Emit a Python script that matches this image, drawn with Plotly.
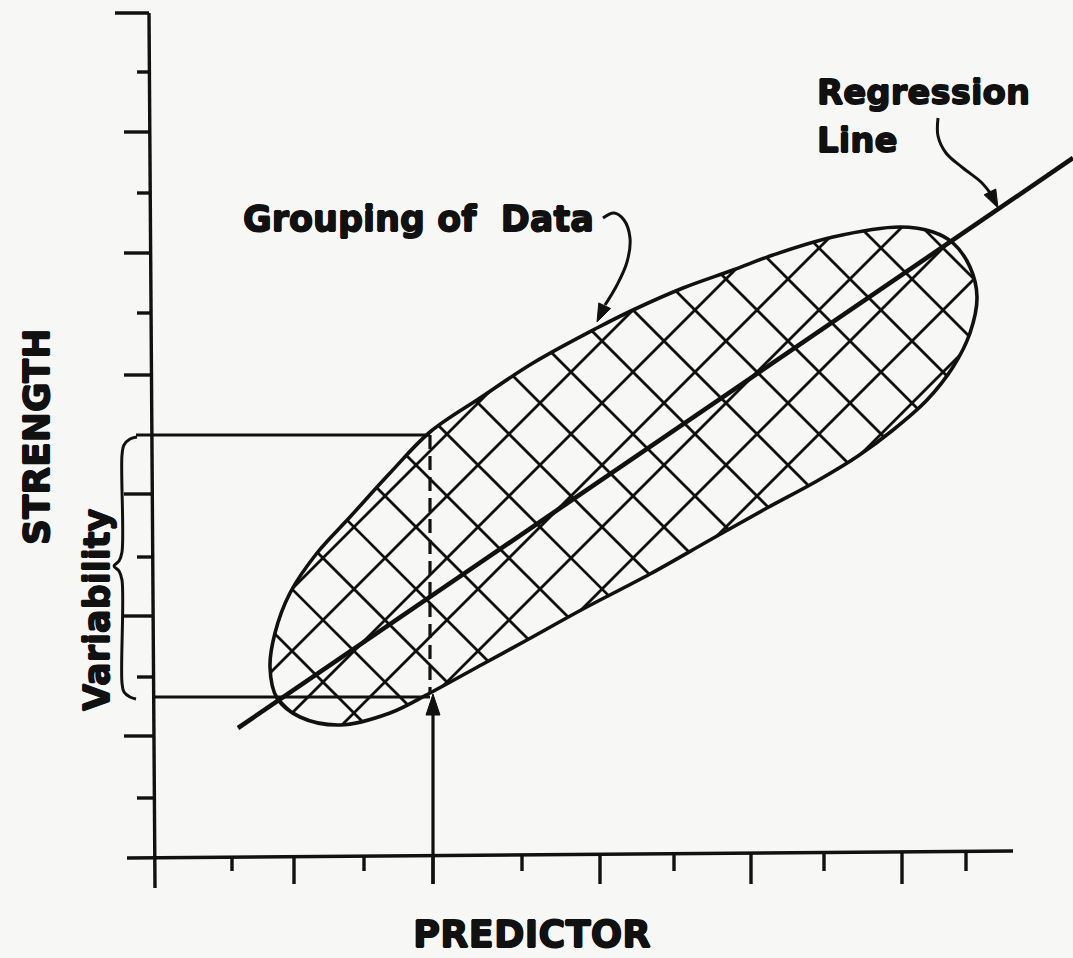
import numpy as np
import plotly.graph_objects as go

# ---- values (diagram units: x to the right, y downward) ----
x_axis_ends_x = [127, 1013]
x_axis_ends_y = [858, 851]
y_axis_ends_x = [149, 155]
y_axis_ends_y = [13, 888]

x_major_ticks = [294, 433, 600, 751, 902]
x_minor_ticks = [232, 364, 522, 674, 824, 966]
y_major_ticks = [13, 132, 253, 375, 494, 616, 736]
y_minor_ticks = [72, 193, 313, 557, 677, 798]

# grouping of data (outline of the hatched blob)
blob_x = [270, 275, 290, 317, 350, 390, 430, 480, 533, 597, 633, 683, 733, 773, 833, 900,
          933, 953, 970, 977, 970, 953, 927, 893, 858, 817, 767, 710, 650, 583, 527, 483,
          430, 390, 340, 300, 277]
blob_y = [667, 633, 593, 553, 517, 473, 432, 398, 363, 328, 310, 288, 270, 255, 237, 227,
          232, 243, 267, 297, 333, 367, 400, 430, 456, 481, 508, 540, 574, 609, 640, 664,
          693, 713, 725, 717, 698]

regression_x = [238, 1073]
regression_y = [728, 158]

predictor_value = 433
strength_high = 435
strength_low = 697

# hatch grid (lines at +/-45 degrees): offsets c in y - x = c and y + x = c
hatch_step = 62
hatch_down_phase = 297
hatch_up_phase = 943

# curved pointer arrows
group_arrow_x = [603, 614, 624, 630, 627, 617, 605]
group_arrow_y = [218, 213, 220, 238, 262, 285, 305]
group_arrow_tip = (597, 322)
reg_arrow_x = [938, 938, 946, 963, 981, 991]
reg_arrow_y = [118, 136, 153, 168, 182, 194]
reg_arrow_tip = (998, 208)

# brace for "Variability"
brace_x = [137, 130, 124, 122, 122, 119, 114, 119, 122, 122, 124, 130, 136]
brace_y = [437, 439, 445, 455, 552, 561, 566, 571, 580, 683, 692, 697, 699]

INK = "#111111"
BG = "#f7f7f5"
FONT = "DejaVu Sans"

fig = go.Figure()


def add_line(xs, ys, width=3, dash=None, shape="linear"):
    fig.add_trace(go.Scatter(x=xs, y=ys, mode="lines", hoverinfo="skip", showlegend=False,
                             line=dict(color=INK, width=width, dash=dash, shape=shape)))


def add_head(tip, frm, length=17, half=6.5):
    tip = np.array(tip, float)
    frm = np.array(frm, float)
    d = tip - frm
    d /= np.hypot(*d)
    n = np.array([-d[1], d[0]])
    base = tip - d * length
    p1 = base + n * half
    p2 = base - n * half
    fig.add_trace(go.Scatter(x=[tip[0], p1[0], p2[0], tip[0]], y=[tip[1], p1[1], p2[1], tip[1]],
                             mode="lines", fill="toself", fillcolor=INK, hoverinfo="skip",
                             showlegend=False, line=dict(color=INK, width=1)))


# closed smooth outline used for clipping the hatch lines
def closed_smooth(xs, ys, n=12):
    P = np.column_stack([xs, ys]).astype(float)
    m = len(P)
    out = []
    for i in range(m):
        p0, p1, p2, p3 = P[(i - 1) % m], P[i], P[(i + 1) % m], P[(i + 2) % m]
        for t in np.linspace(0, 1, n, endpoint=False):
            t2, t3 = t * t, t * t * t
            out.append(0.5 * ((2 * p1) + (-p0 + p2) * t + (2 * p0 - 5 * p1 + 4 * p2 - p3) * t2
                              + (-p0 + 3 * p1 - 3 * p2 + p3) * t3))
    out.append(out[0])
    return np.array(out)


poly = closed_smooth(blob_x, blob_y)


def clip(p0, d):
    ts = []
    for i in range(len(poly) - 1):
        a, b = poly[i], poly[i + 1]
        e = b - a
        den = d[0] * e[1] - d[1] * e[0]
        if abs(den) < 1e-12:
            continue
        w = a - p0
        t = (w[0] * e[1] - w[1] * e[0]) / den
        s = (w[0] * d[1] - w[1] * d[0]) / den
        if 0 <= s < 1:
            ts.append(t)
    ts.sort()
    segs = []
    for k in range(0, len(ts) - 1, 2):
        segs.append((p0 + ts[k] * d, p0 + ts[k + 1] * d))
    return segs


hx, hy = [], []
for k in range(-20, 10):
    for p0, d in (((0.0, hatch_down_phase + k * hatch_step), (1.0, 1.0)),
                  ((0.0, hatch_up_phase + k * hatch_step), (1.0, -1.0))):
        for a, b in clip(np.array(p0), np.array(d)):
            hx += [a[0], b[0], None]
            hy += [a[1], b[1], None]
add_line(hx, hy, width=2.8)

# blob outline
add_line(blob_x + [blob_x[0]], blob_y + [blob_y[0]], width=3.6, shape="spline")

# regression line
add_line(regression_x, regression_y, width=4.6)

# axes
add_line(x_axis_ends_x, x_axis_ends_y, width=3.4)
add_line(y_axis_ends_x, y_axis_ends_y, width=3.4)


def axis_y_at(x):
    return np.interp(x, x_axis_ends_x, x_axis_ends_y)


def axis_x_at(y):
    return np.interp(y, y_axis_ends_y, y_axis_ends_x)


tx, ty = [], []
for v in x_major_ticks:
    tx += [v, v, None]
    ty += [axis_y_at(v), 884, None]
for v in x_minor_ticks:
    tx += [v, v, None]
    ty += [axis_y_at(v), 871, None]
for v in y_major_ticks:
    start = 115 if v == y_major_ticks[0] else 124
    tx += [start, axis_x_at(v), None]
    ty += [v, v, None]
for v in y_minor_ticks:
    tx += [137, axis_x_at(v), None]
    ty += [v, v, None]
add_line(tx, ty, width=3.4)

# variability construction lines
add_line([136, predictor_value - 3], [strength_high, strength_high], width=3)
add_line([axis_x_at(strength_low), predictor_value - 3], [strength_low, strength_low], width=3)
add_line([predictor_value - 3, predictor_value - 3], [strength_high, strength_low - 4],
         width=3.2, dash="14px,7px")
add_line([predictor_value, predictor_value], [884, strength_low + 10], width=3.2)
add_head((predictor_value, strength_low - 3), (predictor_value, 884), length=21, half=7)

# brace
add_line(brace_x, brace_y, width=3, shape="spline")

# pointer arrows
add_line(group_arrow_x, group_arrow_y, width=3, shape="spline")
add_head(group_arrow_tip, (group_arrow_x[-1], group_arrow_y[-1]), length=18, half=6.5)
add_line(reg_arrow_x, reg_arrow_y, width=3, shape="spline")
add_head(reg_arrow_tip, (reg_arrow_x[-1], reg_arrow_y[-1]), length=18, half=6.5)

# texts (a slight same-colour shadow makes the bold face a little heavier)
HEAVY = "0.7px 0 0 #111111, -0.7px 0 0 #111111, 0 0.7px 0 #111111, 0 -0.7px 0 #111111"


def label(text, x, y, size, angle=0, xanchor="center"):
    fig.add_annotation(x=x, y=y, text="<b>%s</b>" % text, showarrow=False, textangle=angle,
                       xanchor=xanchor, yanchor="middle",
                       font=dict(family=FONT, size=size, color=INK, shadow=HEAVY))


label("PREDICTOR", 532, 934, 37)
label("STRENGTH", 36, 437, 36, angle=-90)
label("Variability", 97, 610, 35, angle=-90)
label("Grouping of\u00a0 Data", 241, 219, 35, xanchor="left")
label("Regression", 815, 92, 34, xanchor="left")
label("Line", 815, 140, 34, xanchor="left")

fig.update_layout(
    width=1073, height=958,
    margin=dict(l=0, r=0, t=0, b=0),
    paper_bgcolor=BG, plot_bgcolor=BG,
    xaxis=dict(range=[0, 1073], visible=False, fixedrange=True),
    yaxis=dict(range=[958, 0], visible=False, fixedrange=True),
    showlegend=False,
)

fig.write_html("out.html", config={"displayModeBar": False},
               post_script="document.body.style.margin='0';")
